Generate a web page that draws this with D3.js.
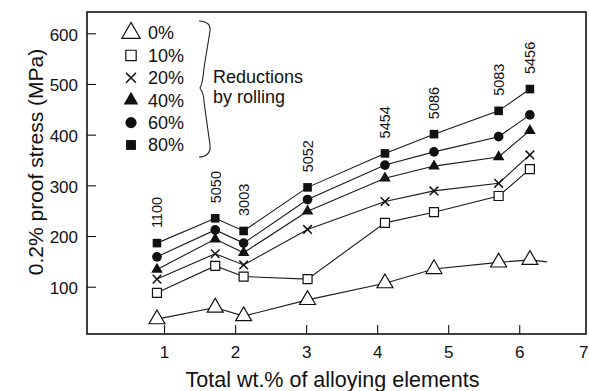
<!DOCTYPE html>
<html>
<head>
<meta charset="utf-8">
<script src="https://cdn.jsdelivr.net/npm/d3@7"></script>
<style>
  html, body { margin: 0; padding: 0; background: #fff; }
  svg { display: block; }
  text { font-family: "Liberation Sans", Arial, Helvetica, sans-serif; fill: #111; }
</style>
</head>
<body>
<svg id="chart" width="589" height="391"></svg>
<script>
// ---------- data ----------
const alloys      = ["1100", "5050", "3003", "5052", "5454", "5086", "5083", "5456"];
const alloyWt     = [0.90, 1.72, 2.12, 3.02, 4.11, 4.80, 5.71, 6.15];
const reductions  = ["0%", "10%", "20%", "40%", "60%", "80%"];
const stress0     = [36, 59, 42, 74, 107, 135, 148, 153];
const stress10    = [88, 141, 120, 115, 226, 247, 279, 332];
const stress20    = [115, 165, 143, 213, 268, 289, 304, 360];
const stress40    = [134, 194, 167, 249, 314, 338, 356, 408];
const stress60    = [159, 212, 186, 272, 340, 366, 396, 439];
const stress80    = [186, 235, 210, 296, 363, 401, 447, 490];
const tail0       = [6.39, 149];   // 0% curve continues past the last alloy
const xTicks      = [1, 2, 3, 4, 5, 6, 7];
const yTicks      = [100, 200, 300, 400, 500, 600];
const noteLines   = ["Reductions", "by rolling"];
const xTitle      = "Total wt.% of alloying elements";
const yTitle      = "0.2% proof stress (MPa)";

const seriesValues = [stress0, stress10, stress20, stress40, stress60, stress80];
const series = reductions.map((r, i) => ({
  name: r,
  points: alloyWt.map((w, j) => ({ x: w, y: seriesValues[i][j] }))
}));
series[0].line = series[0].points.concat([{ x: tail0[0], y: tail0[1] }]);
series.forEach(s => { if (!s.line) s.line = s.points; });

// ---------- layout ----------
const W = 589;
const svg = d3.select("#chart");
const L = 87, R = 586, T = 12, B = 334;
const x = d3.scaleLinear().domain([-0.085, 6.94]).range([L, R]);
const y = d3.scaleLinear().domain([6.7, 642]).range([B, T]);
const ink = "#111";

// ---------- axes ----------
const gx = svg.append("g").attr("transform", `translate(0,${B})`)
  .call(d3.axisBottom(x).tickValues(xTicks).tickFormat(d3.format("d"))
        .tickSizeInner(-9).tickSizeOuter(0).tickPadding(12));
gx.select(".domain").remove();
const lastTick = gx.selectAll(".tick").filter(d => d === 7);
lastTick.select("line").remove();
// keep the last label inside the window (it sits on the right edge)
lastTick.select("text").attr("text-anchor", "end").attr("x", W - 1 - x(7));
gx.selectAll("line").attr("stroke", ink).attr("stroke-width", 1.1);
gx.selectAll("text").attr("font-size", 17).attr("fill", ink);

const gy = svg.append("g").attr("transform", `translate(${L},0)`)
  .call(d3.axisLeft(y).tickValues(yTicks).tickSizeInner(-9).tickSizeOuter(0).tickPadding(9));
gy.select(".domain").remove();
gy.selectAll("line").attr("stroke", ink).attr("stroke-width", 1.1);
gy.selectAll("text").attr("font-size", 17).attr("fill", ink).attr("dy", "0.4em");

// frame
svg.append("rect").attr("x", L).attr("y", T).attr("width", R - L).attr("height", B - T)
  .attr("fill", "none").attr("stroke", ink).attr("stroke-width", 1.6);

// titles
svg.append("text").attr("x", (L + R) / 2 - 4).attr("y", 387)
  .attr("text-anchor", "middle").attr("font-size", 21.5).text(xTitle);
svg.append("text").attr("transform", `translate(43,${162}) rotate(-90)`)
  .attr("text-anchor", "middle").attr("font-size", 21).text(yTitle);

// ---------- lines ----------
const line = d3.line().x(d => x(d.x)).y(d => y(d.y));
svg.append("g").selectAll("path").data(series).join("path")
  .attr("d", s => line(s.line)).attr("fill", "none")
  .attr("stroke", "#1a1a1a").attr("stroke-width", 1.1);

// ---------- markers ----------
function drawMarker(g, idx, big) {
  const k = big ? 1.15 : 1;
  if (idx === 0) {
    g.append("path").attr("d", d3.symbol(d3.symbolTriangle, 110 * k * k)())
      .attr("fill", "#fff").attr("stroke", ink).attr("stroke-width", 1.2);
  } else if (idx === 1) {
    g.append("path").attr("d", d3.symbol(d3.symbolSquare, 81 * k * k)())
      .attr("fill", "#fff").attr("stroke", ink).attr("stroke-width", 1.2);
  } else if (idx === 2) {
    const h = 4.3 * k;
    g.append("path").attr("d", `M${-h},${-h}L${h},${h}M${-h},${h}L${h},${-h}`)
      .attr("fill", "none").attr("stroke", ink).attr("stroke-width", 1.5);
  } else if (idx === 3) {
    g.append("path").attr("d", d3.symbol(d3.symbolTriangle, 58 * (big ? 1.6 : 1))())
      .attr("fill", ink);
  } else if (idx === 4) {
    g.append("path").attr("d", d3.symbol(d3.symbolCircle, 74 * k * k)())
      .attr("fill", ink);
  } else {
    g.append("path").attr("d", d3.symbol(d3.symbolSquare, 74 * k * k)())
      .attr("fill", ink);
  }
}

series.forEach((s, i) => {
  const g = svg.append("g");
  s.points.forEach(p => {
    const m = g.append("g").attr("transform", `translate(${x(p.x)},${y(p.y)})`);
    drawMarker(m, i, false);
  });
});

// ---------- alloy labels ----------
alloys.forEach((a, j) => {
  const top = d3.max(seriesValues, v => v[j]);
  svg.append("text")
    .attr("transform", `translate(${x(alloyWt[j]) + 5.5},${y(top) - 15}) rotate(-90)`)
    .attr("font-size", 14.5).attr("text-anchor", "start").text(a);
});

// ---------- legend ----------
const lgX = 131, lgY = 33, lgStep = 22.4;
reductions.forEach((r, i) => {
  const m = svg.append("g").attr("transform", `translate(${lgX},${lgY + i * lgStep})`);
  drawMarker(m, i, true);
  svg.append("text").attr("x", lgX + 17).attr("y", lgY + i * lgStep).attr("dy", "0.35em")
    .attr("font-size", 18).text(r);
});

// brace
const bx = 199, by0 = 21, by1 = 157, bm = 88;
svg.append("path")
  .attr("d", `M${bx},${by0} C${bx + 8},${by0} ${bx + 12},${by0 + 4} ${bx + 11},${by0 + 10}
              L${bx + 5},${bm - 20} C${bx + 4},${bm - 8} ${bx + 3},${bm - 3} ${bx + 1},${bm}
              C${bx + 3},${bm + 3} ${bx + 5},${bm + 7} ${bx + 5},${bm + 14}
              L${bx + 11},${by1 - 12} C${bx + 12},${by1 - 4} ${bx + 7},${by1} ${bx},${by1}`)
  .attr("fill", "none").attr("stroke", "#222").attr("stroke-width", 1.1);

noteLines.forEach((t, i) => {
  svg.append("text").attr("x", 213).attr("y", 83 + i * 19.5).attr("font-size", 18).text(t);
});
</script>
</body>
</html>
